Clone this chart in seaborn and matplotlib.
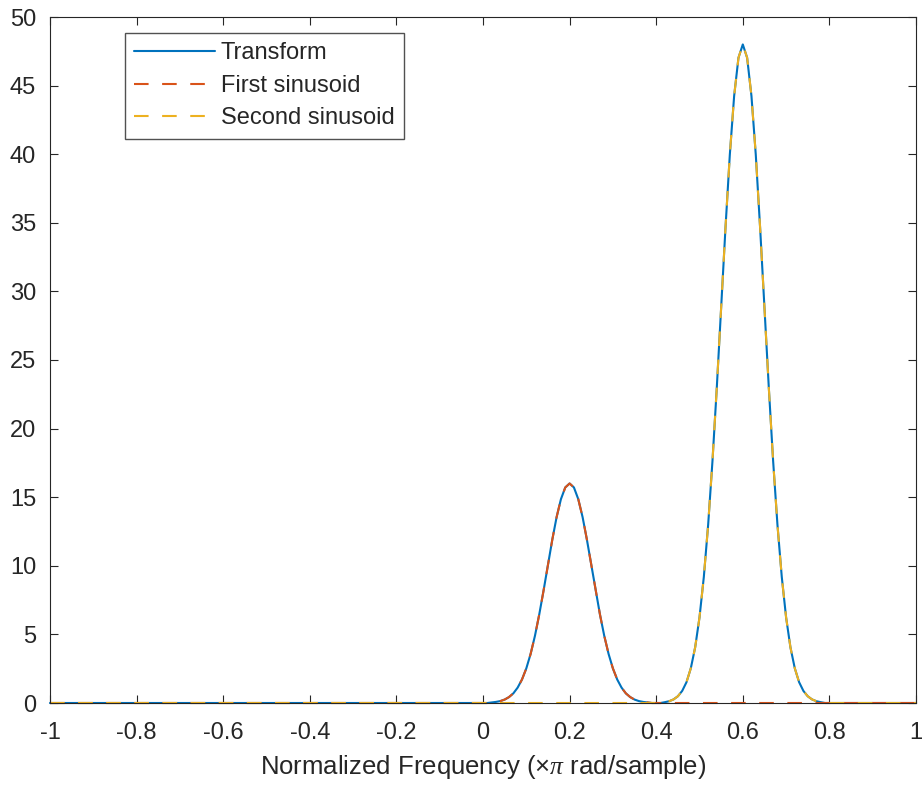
import numpy as np
import pandas as pd
import matplotlib
matplotlib.use("Agg")
import matplotlib.pyplot as plt
import seaborn as sns

# ---- data ----
freq = np.round(np.linspace(-1.0, 1.0, 201), 2)           # normalized frequency grid (x pi rad/sample)

first_start = 0.02                                         # first sinusoid peak samples start here (step 0.01)
first_peak = [0.04, 0.08, 0.14, 0.25, 0.43, 0.70, 1.12, 1.71, 2.52, 3.58,
              4.90, 6.47, 8.22, 10.08, 11.90, 13.55, 14.86, 15.71, 16.00,
              15.71, 14.86, 13.55, 11.90, 10.08, 8.22, 6.47, 4.90, 3.58,
              2.52, 1.71, 1.12, 0.70, 0.43, 0.25, 0.14, 0.08, 0.04]

second_start = 0.42                                        # second sinusoid peak samples start here (step 0.01)
second_peak = [0.06, 0.13, 0.26, 0.49, 0.88, 1.52, 2.54, 4.06, 6.24, 9.19,
               13.00, 17.66, 23.02, 28.82, 34.63, 39.95, 44.24, 47.03, 48.00,
               47.03, 44.24, 39.95, 34.63, 28.82, 23.02, 17.66, 13.00, 9.19,
               6.24, 4.06, 2.54, 1.52, 0.88, 0.49, 0.26, 0.13, 0.06]

series_names = ["Transform", "First sinusoid", "Second sinusoid"]
x_ticks = [-1, -0.8, -0.6, -0.4, -0.2, 0, 0.2, 0.4, 0.6, 0.8, 1]
x_tick_labels = ["-1", "-0.8", "-0.6", "-0.4", "-0.2", "0", "0.2", "0.4", "0.6", "0.8", "1"]
y_ticks = [0, 5, 10, 15, 20, 25, 30, 35, 40, 45, 50]
x_label = "Normalized Frequency ($\\times\\pi$ rad/sample)"

# ---- build series ----
first = np.zeros_like(freq, dtype=float)
i0 = int(np.argmin(np.abs(freq - first_start)))
first[i0:i0 + len(first_peak)] = first_peak
second = np.zeros_like(freq, dtype=float)
j0 = int(np.argmin(np.abs(freq - second_start)))
second[j0:j0 + len(second_peak)] = second_peak
transform = first + second

df = pd.DataFrame({"freq": freq, series_names[0]: transform,
                   series_names[1]: first, series_names[2]: second})

# ---- style ----
sns.set_theme(style="white")
plt.rcParams["font.family"] = ["Liberation Sans", "DejaVu Sans"]
plt.rcParams["mathtext.fontset"] = "custom"
plt.rcParams["mathtext.rm"] = "Liberation Sans"
plt.rcParams["mathtext.it"] = "Liberation Serif:italic"

text_col = "#262626"
colors = ["#0072BD", "#D95319", "#EDB120"]
dash = (0, (7.0, 6.5))

fig = plt.figure(figsize=(9.22, 7.88), dpi=100)
ax = fig.add_axes([50 / 922, 1 - 703 / 788, 866 / 922, 686 / 788])

lw = 1.5
sns.lineplot(data=df, x="freq", y=series_names[0], ax=ax, color=colors[0],
             linewidth=lw, label=series_names[0], clip_on=False)
sns.lineplot(data=df, x="freq", y=series_names[1], ax=ax, color=colors[1],
             linewidth=lw, label=series_names[1], clip_on=False)
sns.lineplot(data=df, x="freq", y=series_names[2], ax=ax, color=colors[2],
             linewidth=lw, label=series_names[2], clip_on=False)
for ln in ax.get_lines()[1:]:
    ln.set_linestyle(dash)

ax.set_xlim(-1, 1)
ax.set_ylim(0, 50)
ax.set_xticks(x_ticks)
ax.set_xticklabels(x_tick_labels)
ax.set_yticks(y_ticks)
ax.set_xlabel(x_label, fontsize=18.5, color=text_col, labelpad=6)
ax.set_ylabel("")

for s in ax.spines.values():
    s.set_visible(True)
    s.set_color(text_col)
    s.set_linewidth(0.8)

ax.tick_params(axis="both", which="major", direction="in", length=6, width=0.8,
               colors=text_col, labelsize=17, top=True, right=True,
               bottom=True, left=True, labelcolor=text_col)
ax.tick_params(axis="x", pad=14)
ax.tick_params(axis="y", pad=10)

leg = ax.legend(loc="upper left", bbox_to_anchor=(0.0866, 0.977), fontsize=17,
                frameon=True, fancybox=False, handlelength=3.4, handletextpad=0.25,
                borderpad=0.4, labelspacing=0.45, borderaxespad=0)
leg.get_frame().set_edgecolor(text_col)
leg.get_frame().set_linewidth(1.0)
for t in leg.get_texts():
    t.set_color(text_col)
for h in leg.get_lines()[1:]:
    h.set_linestyle(dash)

fig.savefig("out.png", dpi=100)
